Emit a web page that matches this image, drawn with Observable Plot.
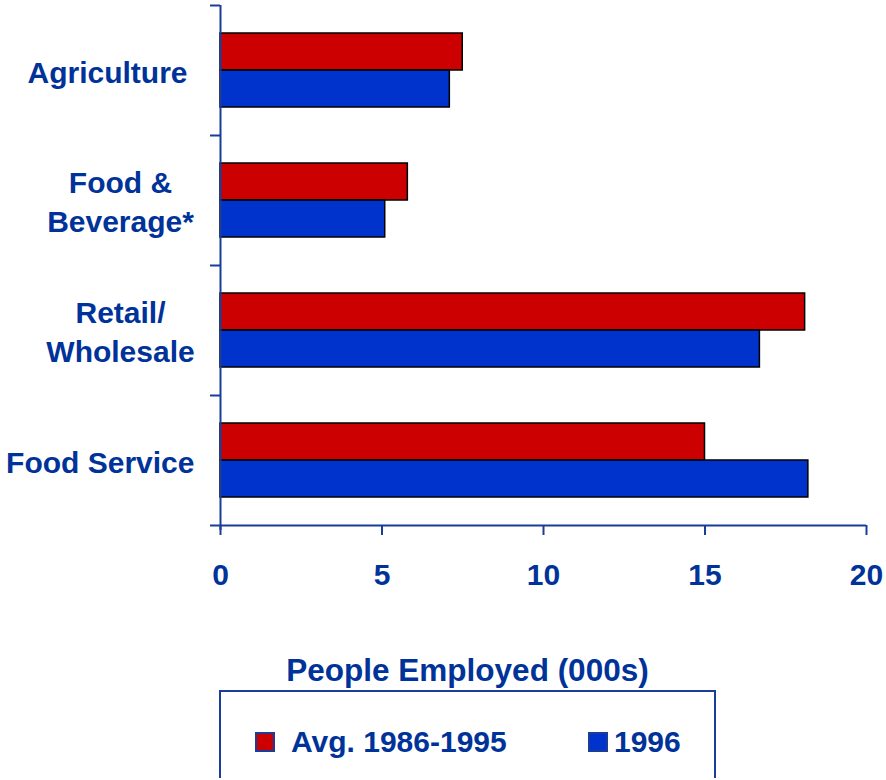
<!DOCTYPE html>
<html>
<head>
<meta charset="utf-8">
<script src="https://cdn.jsdelivr.net/npm/d3@7"></script>
<script src="https://cdn.jsdelivr.net/npm/@observablehq/plot@0.6"></script>
<style>
  html, body { margin: 0; padding: 0; background: #fff; }
  body { font-family: "Liberation Sans", Arial, sans-serif; }
  #wrap { position: relative; width: 886px; height: 780px; }
  #title { position: absolute; left: 219px; width: 497px; top: 652px; text-align: center;
           font-size: 31.5px; font-weight: bold; color: #003399; line-height: 36px; }
  #legend { position: absolute; left: 219px; top: 690px; width: 493px; height: 86px;
            border: 2px solid #1a3d99; border-bottom: none; }
  .item { position: absolute; top: 33px; display: flex; align-items: center;
          font-size: 30px; font-weight: bold; color: #003399; }
  .sw { width: 16px; height: 16px; border: 2px solid #1a3d99; display: inline-block; }
</style>
</head>
<body>
<div id="wrap">
  <div id="chart"></div>
  <div id="title"></div>
  <div id="legend"></div>
</div>
<script>
const categories = ["Agriculture", "Food & Beverage*", "Retail/ Wholesale", "Food Service"];
const categoryLabels = ["Agriculture", "Food &\nBeverage*", "Retail/\nWholesale", "Food Service"];
const seriesNames = ["Avg. 1986-1995", "1996"];
const seriesColors = ["#cc0000", "#0033cc"];
const avg8695 = [7.5, 5.8, 18.1, 15.0];
const y1996 = [7.1, 5.1, 16.7, 18.2];
const xTicks = [0, 5, 10, 15, 20];
const axisTitle = "People Employed (000s)";

const textColor = "#003399";
const labelOf = new Map(categories.map((c, i) => [c, categoryLabels[i]]));
const rowsAvg = categories.map((c, i) => ({category: c, series: seriesNames[0], value: avg8695[i]}));
const rows96 = categories.map((c, i) => ({category: c, series: seriesNames[1], value: y1996[i]}));
const multiLine = categories.filter(c => labelOf.get(c).includes("\n"));
const labelFont = {fontSize: 30, fontWeight: "bold", fill: textColor, lineHeight: 1.3, label: null, tickSize: 0, tickFormat: d => labelOf.get(d)};

const chart = Plot.plot({
  width: 886,
  height: 610,
  marginLeft: 220,
  marginRight: 20,
  marginTop: 5,
  marginBottom: 85,
  style: {fontFamily: "'Liberation Sans', Arial, sans-serif", background: "#fff"},
  x: {domain: [0, 20]},
  y: {domain: categories, padding: 0},
  color: {domain: seriesNames, range: seriesColors},
  marks: [
    Plot.barX(rowsAvg, {x: "value", y: "category", fill: "series", stroke: "#000", strokeWidth: 1.5, insetTop: 28, insetBottom: 65}),
    Plot.barX(rows96, {x: "value", y: "category", fill: "series", stroke: "#000", strokeWidth: 1.5, insetTop: 65, insetBottom: 28}),
    Plot.ruleX([0], {stroke: "#1a3d99", strokeWidth: 2, insetBottom: -5}),
    Plot.ruleY(categories.slice(-1), {stroke: "#1a3d99", strokeWidth: 2, dy: 65, insetLeft: -10}),
    Plot.axisY({tickSize: 10, text: null, dy: -65, stroke: "#1a3d99", strokeWidth: 2, label: null}),
    Plot.axisY({...labelFont, ticks: ["Agriculture"], tickPadding: 33}),
    Plot.axisY({...labelFont, ticks: ["Food Service"], tickPadding: 26}),
    Plot.axisY({...labelFont, ticks: multiLine, textAnchor: "middle", tickPadding: 0, dx: -100}),
    Plot.axisX({ticks: xTicks, tickSize: 10, tickPadding: 28, fontSize: 30, fontWeight: "bold",
                fill: textColor, stroke: "#1a3d99", strokeWidth: 2, label: null})
  ]
});
document.getElementById("chart").appendChild(chart);
document.getElementById("title").textContent = axisTitle;

const legend = document.getElementById("legend");
const lefts = [34, 367];
const gaps = [16, 6];
seriesNames.forEach((name, i) => {
  const it = document.createElement("div");
  it.className = "item";
  it.style.left = lefts[i] + "px";
  const sw = document.createElement("span");
  sw.className = "sw";
  sw.style.background = seriesColors[i];
  sw.style.marginRight = gaps[i] + "px";
  const tx = document.createElement("span");
  tx.textContent = name;
  it.appendChild(sw);
  it.appendChild(tx);
  legend.appendChild(it);
});
</script>
</body>
</html>
